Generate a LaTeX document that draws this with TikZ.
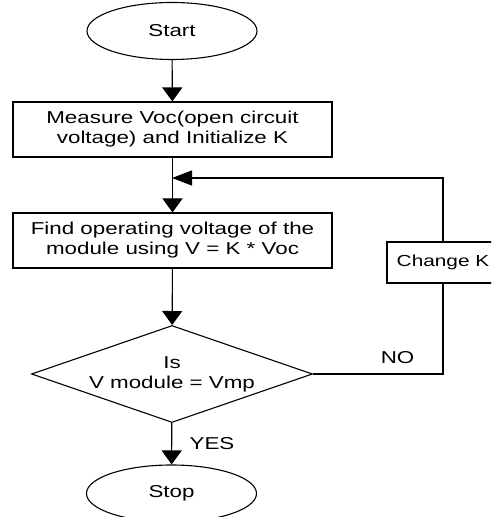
\documentclass[tikz,border=0pt]{standalone}
\usepackage{fontspec}
\setmainfont[FakeStretch=1.3]{Liberation Sans}
\usepackage{tikz}
\usetikzlibrary{positioning,shapes.geometric,arrows.meta}

\begin{document}
\begin{tikzpicture}[
		x=1pt, y=1pt,
		term/.style={
			draw=black, line width=1.1pt, ellipse,
			minimum width=170pt, minimum height=57pt,
			inner sep=0pt, font=\fontsize{17.2}{20}\selectfont
		},
		proc/.style={
			draw=black, line width=1.1pt,
			minimum width=319pt, minimum height=55pt,
			inner sep=0pt, align=center,
			font=\fontsize{17.2}{20}\selectfont
		},
		decide/.style={
			draw=black, line width=1.1pt, diamond, shape aspect=2.9,
			minimum width=281pt, minimum height=97pt,
			inner sep=0pt, align=center,
			font=\fontsize{17.2}{20}\selectfont
		},
		lbl/.style={
			font=\fontsize{17.2}{20}\selectfont
		},
		arr/.style={
			-{Triangle[length=14pt, width=20pt]}, line width=1.1pt
		},
		harr/.style={
			-{Triangle[length=20pt, width=15pt]}, line width=1.1pt
		}
	]
	\clip (0,0) rectangle (491,517);
	
	% Blocks
	\node[term] (start) at (172,486) {Start};
	\node[proc] (meas) at (172.5,387.5) {Measure Voc(open circuit\\voltage) and Initialize K};
	\node[proc] (find) at (172.5,276.5) {Find operating voltage of the\\module using V = K * Voc};
	\node[decide] (dec) at (172,143) {Is\\V module = Vmp};
	\node[term] (stop) at (171.5,23.5) {Stop};
	\node[proc, minimum width=112pt, minimum height=41pt,
		font=\fontsize{16}{19}\selectfont] (chk) at (443,254.5) {Change K};
	
	% Join point of the loop
	\coordinate (jn) at (172,339);
	
	% Arrows
	\draw[arr] (start) -- (meas);
	\draw[arr] (meas) -- (find);
	\draw[arr] (find) -- (dec);
	\draw[arr] (dec) -- node[lbl, right=14pt] (yes) {YES} (stop);
	
	% Loop back
	\draw[line width=1.1pt] (dec.east) -- node[lbl, pos=0.65, above=6pt] (no) {NO} (dec.east -| chk.south) -- (chk.south);
	\draw[harr] (chk.north) |- (jn);
	
\end{tikzpicture}
\end{document}
